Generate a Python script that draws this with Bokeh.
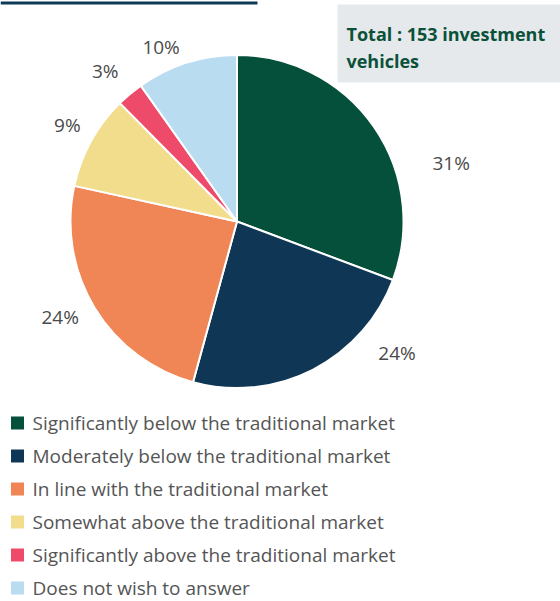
import math
from bokeh.plotting import figure
from bokeh.models import Range1d, ColumnDataSource
from bokeh.core.properties import value
from bokeh.embed import file_html
from bokeh.resources import INLINE

# ---- data ----
categories = [
    "Significantly below the traditional market",
    "Moderately below the traditional market",
    "In line with the traditional market",
    "Somewhat above the traditional market",
    "Significantly above the traditional market",
    "Does not wish to answer",
]
counts = [47, 36, 37, 14, 4, 15]
pct_labels = ["31%", "24%", "24%", "9%", "3%", "10%"]
colors = ["#04503a", "#0f3755", "#f08555", "#f2dd8c", "#ee4b6a", "#badcf1"]
total_text = ["Total : 153 investment", "vehicles"]

# ---- layout (pixels, y measured from top) ----
W, H = 560, 601
CX, CY, R = 236.5, 221.0, 166.5
label_shift_deg = [19.5, -23.6, 2.8, 0.7, -1.2, -5.9]
label_r = [222, 207, 201, 195, 200, 190]

def Y(py):
    return H - py

p = figure(width=W, height=H, output_backend="svg", toolbar_location=None,
           x_range=Range1d(0, W), y_range=Range1d(0, H), min_border=0)
p.axis.visible = False
p.grid.visible = False
p.outline_line_color = None
p.background_fill_color = "white"
p.border_fill_color = "white"

# top rule
p.segment(x0=[0], y0=[Y(2.5)], x1=[257], y1=[Y(2.5)], line_color="#0f3a57", line_width=3)

# total box
p.quad(left=[337], right=[560], top=[Y(4)], bottom=[Y(82)], fill_color="#e6e9ec", line_color=None)
p.text(x=[346, 346], y=[Y(33), Y(60)], text=total_text, text_font=value("Open Sans"),
       text_font_style="bold", text_font_size="18px", text_color="#0b5139",
       text_baseline="middle", text_align="left")

# pie
total = sum(counts)
starts, ends, lx, ly = [], [], [], []
cum = 0.0
for i, c in enumerate(counts):
    f0 = cum / total
    cum += c
    f1 = cum / total
    starts.append(math.pi / 2 - 2 * math.pi * f0)
    ends.append(math.pi / 2 - 2 * math.pi * f1)
    mid = (f0 + f1) / 2 * 360 + label_shift_deg[i]
    th = math.radians(mid)
    lx.append(CX + label_r[i] * math.sin(th))
    ly.append(Y(CY - label_r[i] * math.cos(th)))

src = ColumnDataSource(dict(start=starts, end=ends, color=colors, lx=lx, ly=ly, lab=pct_labels))
p.wedge(x=CX, y=Y(CY), radius=R, start_angle="start", end_angle="end", direction="clock",
        fill_color="color", line_color="white", line_width=2, source=src)
p.text(x="lx", y="ly", text="lab", source=src, text_font=value("Open Sans"),
       text_font_size="19px", text_color="#4a4a4a", text_align="center", text_baseline="middle")

# legend
leg_y0, leg_dy = 422.5, 33.0
ly_leg = [Y(leg_y0 + i * leg_dy) for i in range(len(categories))]
p.rect(x=[17] * len(categories), y=ly_leg, width=13, height=13, fill_color=colors, line_color=None)
p.text(x=[32] * len(categories), y=ly_leg, text=categories, text_font=value("Open Sans"),
       text_font_size="19px", text_color="#555555", text_align="left", text_baseline="middle")

html = file_html(p, INLINE)
html = html.replace("<head>", "<head><style>html,body{margin:0;padding:0;overflow:hidden}</style>", 1)
open("out.html", "w").write(html)
